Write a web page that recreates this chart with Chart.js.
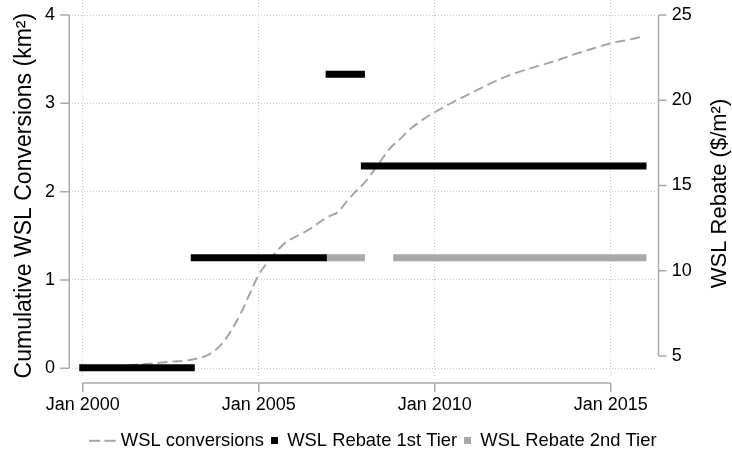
<!DOCTYPE html>
<html>
<head>
<meta charset="utf-8">
<script src="https://cdn.jsdelivr.net/npm/chart.js@4.4.1/dist/chart.umd.min.js"></script>
<style>
  html, body { margin: 0; padding: 0; background: #ffffff; }
  #wrap { width: 732px; height: 464px; }
</style>
</head>
<body>
<div id="wrap"><canvas id="c" width="732" height="464"></canvas></div>
<script>
// Cumulative WSL conversions (km²) by decimal year
const convYears  = [2000.0, 2001.0, 2001.5, 2002.0, 2002.5, 2003.0, 2003.25, 2003.5, 2003.75,
                    2004.0, 2004.25, 2004.5, 2004.75, 2005.0, 2005.25, 2005.5, 2005.75,
                    2006.0, 2006.25, 2006.5, 2006.75, 2007.0, 2007.25, 2007.5, 2007.75,
                    2008.0, 2008.25, 2008.5, 2008.75, 2009.0, 2009.25, 2009.5, 2009.75,
                    2010.0, 2010.5, 2011.0, 2011.5, 2012.0, 2012.5, 2013.0, 2013.5,
                    2014.0, 2014.5, 2015.0, 2015.5, 2015.917];
const convValues = [0.0, 0.02, 0.04, 0.055, 0.075, 0.09, 0.11, 0.14, 0.20,
                    0.30, 0.45, 0.63, 0.85, 1.06, 1.20, 1.32, 1.42,
                    1.48, 1.53, 1.59, 1.66, 1.72, 1.77, 1.89, 2.00,
                    2.10, 2.23, 2.37, 2.50, 2.59, 2.69, 2.77, 2.84,
                    2.90, 3.01, 3.11, 3.21, 3.30, 3.37, 3.43, 3.49,
                    3.56, 3.62, 3.68, 3.72, 3.76];

// Rebate periods ($/m²): first and last month of each period, as decimal years
const tier1Start = [2000.0,   2003.167, 2007.0,   2008.0];
const tier1End   = [2003.083, 2006.833, 2007.917, 2015.917];
const tier1Rate  = [4.31,     10.76,    21.53,    16.15];

const tier2Start = [2007.0,   2008.917];
const tier2End   = [2007.917, 2015.917];
const tier2Rate  = [10.76,    10.76];

// Axis ticks
const xTickYears = [2000, 2005, 2010, 2015];
const leftTicks  = [0, 1, 2, 3, 4];
const rightTicks = [5, 10, 15, 20, 25];

const FONT = "'Liberation Sans', Arial, Helvetica, sans-serif";
const GRID = '#cccccc';
const AXIS = '#a9a9a9';
const CONV_COLOR = '#a6a6a6';
const TIER1_COLOR = '#000000';
const TIER2_COLOR = '#a9a9a9';

Chart.defaults.font.family = FONT;
Chart.defaults.color = '#000000';

function segments(starts, ends, rates) {
  const pts = [];
  starts.forEach((s, i) => {
    pts.push({ x: s, y: rates[i] });
    pts.push({ x: ends[i], y: rates[i] });
    pts.push({ x: ends[i], y: null });
  });
  return pts;
}

function swatch(w, h, paint) {
  const c = document.createElement('canvas');
  c.width = w; c.height = h;
  paint(c.getContext('2d'));
  return c;
}
// legend keys: a short dashed stroke (drawn in the left part so it sits before the text) and two squares
const dashKey = swatch(39, 4, g => {
  g.strokeStyle = CONV_COLOR; g.lineWidth = 2; g.setLineDash([11.5, 4]);
  g.beginPath(); g.moveTo(0, 2); g.lineTo(27, 2); g.stroke();
});
const tier1Key = swatch(7, 7, g => { g.fillStyle = TIER1_COLOR; g.fillRect(0, 0, 7, 7); });
const tier2Key = swatch(7, 7, g => { g.fillStyle = TIER2_COLOR; g.fillRect(0, 0, 7, 7); });

function fixedTicks(values) {
  return scale => { scale.ticks = values.map(v => ({ value: v })); };
}

// Stata-style axis lines offset from the plot region, plus both axis titles
const axisFrame = {
  id: 'axisFrame',
  afterLayout(chart) {
    // nudge the centred legend row to the right
    if (chart.legend) chart.legend.left += 29.2;
  },
  afterDraw(chart) {
    const { ctx, chartArea: a, scales: { x, y, y1 } } = chart;
    ctx.save();
    ctx.strokeStyle = AXIS;
    ctx.lineWidth = 1.5;
    ctx.beginPath();
    const lx = a.left - 2.2;
    ctx.moveTo(lx, y.getPixelForValue(leftTicks[leftTicks.length - 1]));
    ctx.lineTo(lx, y.getPixelForValue(leftTicks[0]));
    leftTicks.forEach(v => {
      const p = y.getPixelForValue(v);
      ctx.moveTo(lx - 9, p); ctx.lineTo(lx, p);
    });
    const rx = a.right + 2;
    ctx.moveTo(rx, y1.getPixelForValue(rightTicks[rightTicks.length - 1]));
    ctx.lineTo(rx, y1.getPixelForValue(rightTicks[0]));
    rightTicks.forEach(v => {
      const p = y1.getPixelForValue(v);
      ctx.moveTo(rx, p); ctx.lineTo(rx + 8, p);
    });
    const by = a.bottom + 5;
    ctx.moveTo(x.getPixelForValue(xTickYears[0]), by);
    ctx.lineTo(x.getPixelForValue(xTickYears[xTickYears.length - 1]), by);
    xTickYears.forEach(v => {
      const p = x.getPixelForValue(v);
      ctx.moveTo(p, by); ctx.lineTo(p, by + 9);
    });
    ctx.stroke();

    ctx.fillStyle = '#000000';
    ctx.textAlign = 'center';
    ctx.textBaseline = 'middle';
    const ly = (y.getPixelForValue(leftTicks[0]) + y.getPixelForValue(leftTicks[leftTicks.length - 1])) / 2 + 4;
    ctx.save();
    ctx.font = '23px ' + FONT;
    ctx.translate(25, ly);
    ctx.rotate(-Math.PI / 2);
    ctx.fillText('Cumulative WSL Conversions (km²)', 0, 0);
    ctx.restore();
    const ry = (y1.getPixelForValue(rightTicks[0]) + y1.getPixelForValue(rightTicks[rightTicks.length - 1])) / 2 + 8;
    ctx.save();
    ctx.font = '22px ' + FONT;
    ctx.translate(720, ry);
    ctx.rotate(-Math.PI / 2);
    ctx.fillText('WSL Rebate ($/m²)', 0, 0);
    ctx.restore();
    ctx.restore();
  }
};

new Chart(document.getElementById('c'), {
  type: 'line',
  data: {
    datasets: [
      {
        label: 'WSL conversions',
        data: convYears.map((t, i) => ({ x: t, y: convValues[i] })),
        yAxisID: 'y',
        borderColor: CONV_COLOR,
        borderWidth: 2,
        borderDash: [10, 5],
        cubicInterpolationMode: 'monotone',
        pointRadius: 0,
        order: 3
      },
      {
        label: 'WSL Rebate 1st Tier',
        data: segments(tier1Start, tier1End, tier1Rate),
        yAxisID: 'y1',
        borderColor: TIER1_COLOR,
        borderWidth: 7,
        borderCapStyle: 'square',
        spanGaps: false,
        pointRadius: 0,
        order: 1
      },
      {
        label: 'WSL Rebate 2nd Tier',
        data: segments(tier2Start, tier2End, tier2Rate),
        yAxisID: 'y1',
        borderColor: TIER2_COLOR,
        borderWidth: 7,
        borderCapStyle: 'square',
        spanGaps: false,
        pointRadius: 0,
        order: 2
      }
    ]
  },
  options: {
    responsive: false,
    devicePixelRatio: 1,
    animation: false,
    layout: { padding: { left: 0, right: 0, top: 0, bottom: 4 } },
    plugins: {
      tooltip: { enabled: false },
      legend: {
        position: 'bottom',
        labels: {
          usePointStyle: true,
          boxWidth: 7,
          boxHeight: 7,
          padding: 7,
          color: '#000000',
          font: { size: 18.4, family: FONT },
          generateLabels: () => [
            { text: 'WSL conversions', pointStyle: dashKey, fillStyle: CONV_COLOR, strokeStyle: CONV_COLOR, lineWidth: 0, hidden: false, datasetIndex: 0 },
            { text: 'WSL Rebate 1st Tier', pointStyle: tier1Key, fillStyle: TIER1_COLOR, strokeStyle: TIER1_COLOR, lineWidth: 0, hidden: false, datasetIndex: 1 },
            { text: 'WSL Rebate 2nd Tier', pointStyle: tier2Key, fillStyle: TIER2_COLOR, strokeStyle: TIER2_COLOR, lineWidth: 0, hidden: false, datasetIndex: 2 }
          ]
        }
      }
    },
    scales: {
      x: {
        type: 'linear',
        min: 1999.68,
        max: 2016.30,
        afterBuildTicks: fixedTicks(xTickYears),
        ticks: {
          callback: v => 'Jan ' + v,
          font: { size: 18 },
          color: '#000000',
          padding: 16.2,
          maxRotation: 0,
          autoSkip: false
        },
        grid: { color: GRID, lineWidth: 1, drawTicks: false },
        border: { display: false, dash: [1, 2] },
        afterFit: s => { s.height = 46.6; s.paddingLeft = 0; s.paddingRight = 0; }
      },
      y: {
        position: 'left',
        min: -0.11,
        max: 4.17,
        afterBuildTicks: fixedTicks(leftTicks),
        ticks: { font: { size: 18 }, color: '#000000', padding: 16.5 },
        grid: { color: GRID, lineWidth: 1, drawTicks: false },
        border: { display: false, dash: [1, 2] },
        afterFit: s => { s.width = 71.5; s.paddingTop = 0; s.paddingBottom = 0; }
      },
      y1: {
        position: 'right',
        min: 3.71,
        max: 25.88,
        afterBuildTicks: fixedTicks(rightTicks),
        ticks: { font: { size: 18 }, color: '#000000', padding: 15.2 },
        grid: { display: false, drawTicks: false },
        border: { display: false },
        afterFit: s => { s.width = 75.5; s.paddingTop = 0; s.paddingBottom = 0; }
      }
    }
  },
  plugins: [axisFrame]
});
</script>
</body>
</html>
